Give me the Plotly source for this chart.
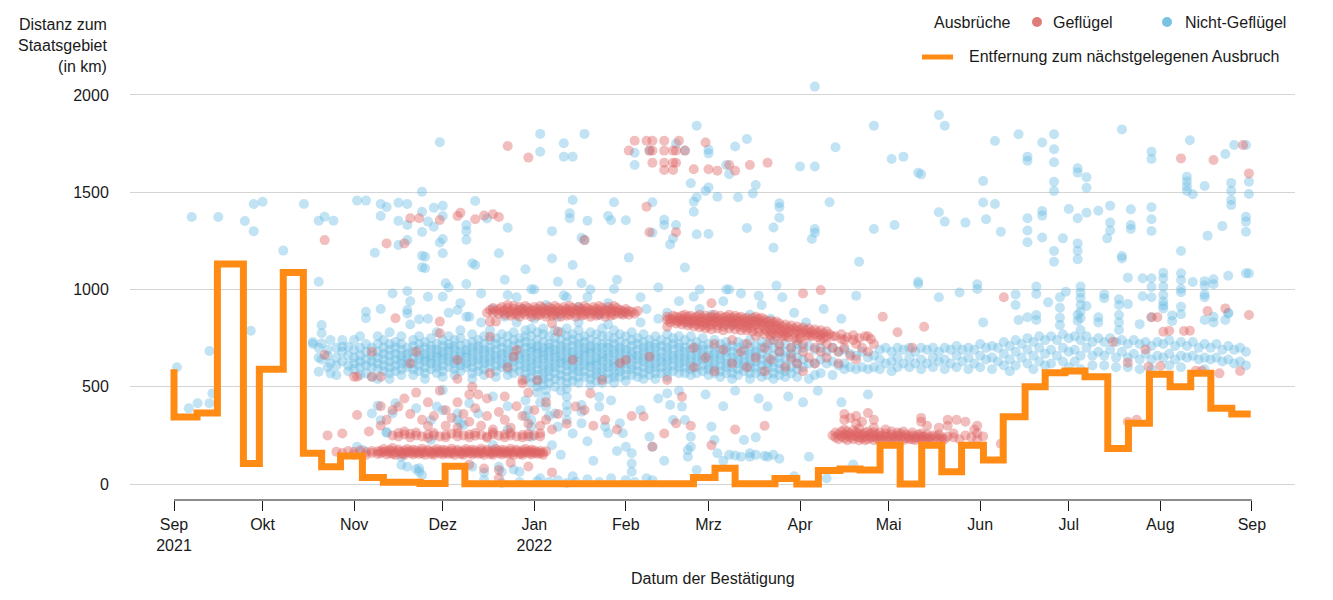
import pandas as pd
import plotly.graph_objects as go

BASE = pd.Timestamp("2021-09-01")

# ---------------- Orange step line (day offset from 2021-09-01, km) ----------------
STEP_DAYS = [0, 0, 7.8, 14.7, 23.5, 28.9, 37, 43.8, 50, 56.4, 63.8, 70.9, 83.3, 91.8, 98.5,
             175.9, 183.2, 190, 203.5, 210.9, 218.2, 225.5, 232.3, 239.1, 245.9, 253.2, 260,
             266.7, 274.1, 280.8, 288.2, 295, 301.7, 308.5, 316.2, 323.2, 330.3, 337.3, 344.3,
             351.1, 358.2, 364.6]
STEP_KM = [590, 345, 365, 1131, 106, 590, 1088, 158, 89, 144, 34, 9, 3, 92, 2,
           34, 81, 2, 29, 0, 70, 77, 72, 200, 0, 200, 63,
           200, 123, 346, 500, 572, 581, 552, 183, 312, 564, 500, 569,
           389, 360, 360]

# ---------------- Axis ticks ----------------
X_TICKS = ["2021-09-01", "2021-10-01", "2021-11-01", "2021-12-01", "2022-01-01", "2022-02-01",
           "2022-03-01", "2022-04-01", "2022-05-01", "2022-06-01", "2022-07-01", "2022-08-01",
           "2022-09-01"]
X_LABELS = ["Sep<br>2021", "Okt", "Nov", "Dez", "Jan<br>2022", "Feb", "Mrz", "Apr", "Mai",
            "Jun", "Jul", "Aug", "Sep"]
Y_TICKS = [0, 500, 1000, 1500, 2000]

# ---------------- Nicht-Geflügel (blue) ; "day: km km ..." ----------------
NP_BAND_HERBST = [
    "47:730 720", "49:577 700 650", "50:817 775 723 640", "52:690 660 600", "53:569 740 620",
    "55:700 650 610 560", "57:740 706 680 630", "59:706 660 610 580", "61:740 690 650 620 590",
    "63:760 700 660 630 600 560", "65:886 852 720 680 640 610 570", "67:700 660 630 600 550",
    "69:760 720 680 650 620 590 540", "71:740 700 670 640 610 580",
    "73:780 720 690 660 630 600 570 540", "75:730 700 670 640 610 580",
    "77:760 720 690 660 640 620 590 560", "79:895 877 700 670 650 620 600",
    "81:740 710 680 650 620 590 560", "83:847 760 720 690 660 640 610 580",
    "85:730 700 670 650 630 600 570 540", "87:750 710 690 660 640 620 590",
    "89:780 720 690 670 650 620 600 570", "91:740 710 680 660 640 610 580 550",
    "93:760 720 700 680 650 630 600", "95:740 710 690 660 640 620 590 560",
    "97:790 750 710 680 660 630 610 580", "99:860 720 690 670 650 620 600",
    "101:770 730 700 680 650 630 600 570 540", "103:740 710 690 660 640 610 580",
    "105:760 720 690 670 640 620 590 560", "107:790 740 700 680 650 630 600",
    "109:750 720 690 660 640 610 580 550", "111:770 730 700 670 650 620 600",
    "113:760 720 690 670 640 620 590 560", "115:780 740 710 680 650 630 600 570",
    "117:750 720 690 660 640 610 580", "119:790 760 730 700 670 650 620 600 570 540",
]
NP_BAND_WINTER = [
    "121:800 760 720 700 680 650 630 600 580 550 520", "123:780 740 710 690 670 640 620 590 560 530 500",
    "125:800 770 730 700 680 660 640 610 590 560 540 510", "127:760 720 700 680 650 630 600 580 550 520",
    "129:790 750 720 690 670 650 620 600 570 540 500", "131:780 740 710 690 660 640 620 590 560 530",
    "133:800 760 730 700 680 650 630 610 580 550 520 490", "135:770 740 710 680 660 640 610 590 560 530",
    "137:790 750 720 700 670 650 630 600 580 550 520", "139:760 730 700 680 660 630 610 580 550",
    "141:780 740 710 690 670 640 620 600 570 540 510", "143:770 730 700 680 650 630 610 580 560 530",
    "145:800 760 720 700 670 650 630 600 580 550 520", "147:760 720 700 670 650 620 600 570 540",
    "149:790 750 720 690 670 640 620 600 570 550 520", "151:770 730 700 680 650 630 600 580 550",
    "153:760 720 690 670 640 620 590 560 530", "155:780 740 710 680 660 640 610 590 560",
    "157:750 720 690 660 640 610 580 550", "159:770 730 700 680 650 630 600 570 540",
    "161:740 710 690 660 640 610 590 560", "163:760 720 700 670 650 620 600 570 540",
    "165:740 710 680 650 630 600 570", "167:770 730 700 680 650 630 600 580 550",
    "169:750 720 690 660 640 610 580", "171:760 720 700 670 650 620 600 570",
    "173:740 700 680 650 630 600 570", "175:760 720 690 660 640 610 590 560",
    "177:730 700 680 650 630 600 570", "179:750 710 690 660 640 610 580",
    "181:720 690 660 640 610 590 560", "183:740 700 670 650 620 600 570",
    "185:720 690 660 640 610 580 550", "187:730 700 680 650 620 600 570",
    "189:710 680 650 630 600 570 540", "191:730 700 670 640 620 590 560",
    "193:720 690 660 630 610 580", "195:740 700 670 650 620 600 570 540",
    "197:710 680 660 630 600 570", "199:730 700 670 640 610 580 550",
    "201:720 690 650 620 600 560", "203:740 700 660 630 600 570 540",
    "205:710 680 650 620 590 560", "207:720 680 650 610 580 550",
    "209:700 670 640 600 570", "211:720 690 650 620 590 550",
    "213:700 640 600", "215:710 620 540", "217:690 620 560", "219:700 640 570",
    "221:680 620", "223:700 630 560", "225:680 610", "227:690 620 590",
    "229:670 600", "231:660 590", "233:680 600", "235:650 590",
]
NP_BAND_SOMMER = [
    "237:660 600", "239:690 640 590", "241:700 620", "243:680 630 580",
    "245:700 650 600", "247:690 620", "249:700 650 600", "251:680 620",
    "253:700 640 590", "255:690 620", "257:700 650 600", "259:680 630",
    "261:700 640 590", "263:690 620", "265:710 660 600", "267:690 630",
    "269:700 650 590", "271:690 620", "273:720 660 600", "275:700 640",
    "277:710 650 590", "279:700 630", "281:730 670 610", "283:710 640 580",
    "285:740 680 610", "287:720 650", "289:750 690 620", "291:730 660 590",
    "293:760 700 630", "295:740 670 610", "297:760 690 620", "299:740 660",
    "301:770 700 630", "303:750 680 600", "305:760 690 630",
    "307:740 660 590", "309:760 700", "311:730 660 610",
    "313:750 680", "315:730 660 610", "317:750 690", "319:730 650 600",
    "321:740 680", "323:720 650 600", "325:740 670", "327:720 640 590",
    "329:730 670", "331:710 640 590", "333:730 660", "335:720 650",
    "337:740 670 610", "339:710 640", "341:730 660 600", "343:710 650",
    "345:730 660", "347:700 640", "349:720 650 590", "351:700 640",
    "353:720 650", "355:690 630", "357:710 640", "359:690 620", "361:700 630",
    "363:680 610",
]
NP_OBEN = [
    "1:600", "5:389", "8:415", "12:684 415", "13:466", "6:1373", "15:1373", "24:1352", "26:788",
    "27:1440 1300", "30:1451", "37:1200", "44:1440", "49:1354 1040", "51:1374", "54:1354",
    "62:1457", "65:1457", "68:1189", "70:1440 1378 900", "72:1424", "74:980", "76:1446 1229 1353",
    "79:1440 1332 1254 992", "80:820 940", "84:1503 1400 1296 1174 1114", "85:1169 1109",
    "86:1349 963 850", "88:1323 1420", "90:1757 1242", "91:1431 1378 1186 1260 963",
    "92:1032", "93:1010 880", "96:895", "97:930", "99:1332 1300 1256 1028", "100:860",
    "101:1135", "102:1126 1455", "104:980 830", "106:1365", "108:900", "110:1186",
    "112:1050 860", "113:1318 972", "116:830 960", "118:900", "119:1104", "121:1001",
    "122:850 1000", "124:1800 1708", "126:920", "128:1300 1159", "130:1040 860",
    "132:1752 970 1683", "133:960", "134:1392 1366", "135:1683 1460 1126", "137:830 910",
    "138:1266 1032", "139:1800 1254", "140:1354 961", "141:1000", "144:870", "147:1378 930 820",
    "148:1356", "149:1449 1003", "150:1050", "152:880", "153:1356", "154:1164",
    "156:1703 1640", "158:960 830", "160:900", "161:1714", "162:1449 1292", "164:1010 850",
    "166:1358 1332", "167:880", "168:1232", "169:1264", "170:1750 1332", "171:940",
    "173:1714 1113", "174:830", "175:1546", "176:1400 1451 963", "177:1842 1474 1284",
    "178:900 1000", "180:1507", "181:1719 1700 1525 1285", "182:870", "184:1477",
    "186:940", "187:1640 1000", "188:1593 1000", "189:820", "190:1735", "191:1474",
    "192:980", "194:1774 1316", "195:870", "196:1494", "197:1537", "198:968", "199:920",
    "202:850", "203:1319 1215", "204:1020", "205:1443 1423 1369", "206:960", "210:880",
    "212:1632", "214:830", "216:1260", "217:2043 1632 1311 1292", "220:900", "222:1449",
    "224:1731", "226:850", "231:968", "232:1143", "237:1842 1311", "243:1671", "244:1332",
    "247:1683", "252:1600 1040 1028", "253:1592", "259:1897 1397 960", "261:1842 1349",
    "266:985", "268:1344", "272:1027 1003", "274:1558 1447 831", "275:1361",
    "278:1763 1440", "280:1297", "285:975 920", "286:1798 843",
    "289:1683 1662 1366 1303 1243 857", "292:1015 977 869 843", "294:1756 1404 1380 1267",
    "296:934", "298:1798 1721 1654 1554 1506 1198 1143", "300:960 906 855 817", "301:1263",
    "302:989", "303:1414", "306:1623 1601 1366 1237 1199 1155 870 840",
    "307:1015 984 955 920 886 852 792", "309:1577 1523 1395 915", "313:1405 857 831",
    "315:975 955", "316:1263", "317:1431 1344 1303", "320:950 920 869 831 792",
    "321:1823 1172 1160", "323:1061 925", "324:1412 1332 1311", "327:822", "328:1058 965",
    "331:1708 1671 1423 1361 1301 1058 1013 960 857", "335:1086 1058 1015 972 938 903 918",
    "338:867 838", "341:1198 1083 1049 1003 986 912 873", "343:1580 1555 1530 1506",
    "344:1767", "345:1490 1039", "349:1532 1043 1020 975 960 843", "350:1277",
    "352:1053 1027 860 831", "355:1326", "356:1697 843", "357:1071 877 880",
    "358:1548 1508 1460 1434", "359:1743", "363:1743 1374 1349 1297 1083", "364:1554 1491 1083",
]
NP_UNTEN = [
    "62:192", "64:175", "67:363", "69:403", "70:328", "72:266 264", "74:363", "75:415",
    "77:98 140", "79:89", "82:76 389", "83:81 63", "84:46", "87:328 226", "89:398",
    "91:380 483", "96:363 329", "97:312", "98:303", "100:415", "101:89", "103:363",
    "105:60 20", "108:200 450", "110:89", "111:63 5", "113:400 280", "115:75", "117:63 10",
    "119:430 350", "120:380", "121:329 295 243", "123:15 470", "124:30 420", "126:449 398 483",
    "127:10 350", "128:200", "129:363", "130:295 20", "131:150 480", "133:449 406 372 329 5",
    "135:260 40", "136:10", "138:406 372 312", "140:25 220", "142:120", "144:449 398 10",
    "146:295", "147:261", "148:30 430", "150:170", "151:312", "152:261", "153:192 20",
    "155:106 63 158", "156:10", "158:380", "160:30", "161:243", "162:192 20", "164:440",
    "166:120", "167:466", "168:406", "169:329", "171:480", "172:398", "173:329",
    "174:175 140", "175:192 243", "177:72", "180:460", "182:295", "183:226", "184:158",
    "186:400 120", "188:150", "190:147 480", "192:140", "193:226", "195:140 158", "197:150 240",
    "198:440", "200:145", "201:398 140", "203:150", "205:130", "208:450", "210:40",
    "213:420", "215:140", "218:480", "221:30", "226:420", "230:100", "235:460",
]

# ---------------- Geflügel (red) ----------------
GF_BAND_160 = [
    "55:166", "57:160", "59:170", "61:165 150", "63:172", "65:165 150", "67:160 170",
    "69:168 155", "70:158 170", "71:165 180", "72:152 168", "73:160 175", "74:155 170 185",
    "75:162 150", "76:168 178", "77:155 165", "78:160 172 150", "79:165 180", "80:158 170",
    "81:152 163 176", "82:160 172", "83:165 155", "84:158 170 182", "85:162 150",
    "86:168 176", "87:155 165", "88:160 172 150", "89:165 180", "90:158 170",
    "91:152 163 176", "92:160 172", "93:165 155", "94:158 170 182", "95:162 150",
    "96:168 176", "97:155 165", "98:160 172 150", "99:165 180", "100:158 170",
    "101:152 163 176", "102:160 172", "103:165 155", "104:158 170 182", "105:162 150",
    "106:168 176", "107:155 165", "108:160 172 150", "109:165 180", "110:158 170",
    "111:152 163 176", "112:160 172", "113:165 155", "114:158 170 182", "115:162 150",
    "116:168 176", "117:155 165", "118:160 172 150", "119:165 180", "120:158 170",
    "121:152 163 176", "122:160 172", "123:165 155", "124:158 170", "125:162 150", "126:168",
]
GF_BAND_250 = [
    "74:250", "76:245 262", "78:255", "80:240 258", "82:250 265", "84:245", "86:238 255",
    "88:250 262", "90:245", "92:252 240", "94:258", "96:245 262", "98:250", "100:240 255",
    "102:248 262", "104:252", "106:245 238", "108:255 265", "110:248", "112:240 255",
    "114:250 262", "116:245", "118:252 240", "120:258 245", "122:250", "124:245 260",
]
GF_BAND_880 = [
    "106:880", "107:895", "108:905 880", "109:890", "110:875 900", "111:885 910",
    "112:870 895", "113:880 905 920", "114:865 890", "115:875 900 915", "116:885 870",
    "117:895 910 860", "118:880 900", "119:870 890 915", "120:885 905", "121:875 895 860",
    "122:890 910", "123:880 865 900", "124:870 890 915", "125:885 905", "126:875 895 860",
    "127:890 910", "128:880 865 900", "129:870 890 915", "130:885 905", "131:875 895 860",
    "132:890 910", "133:880 865 900", "134:870 890 915", "135:885 905", "136:875 895 860",
    "137:890 910", "138:880 865 900", "139:870 890 915", "140:885 905", "141:875 895 860",
    "142:890 910", "143:880 865 900", "144:870 890 915", "145:885 905", "146:875 895 860",
    "147:890 910", "148:880 865 900", "149:870 890 915", "150:885 905", "151:875 895",
    "152:890 870", "153:880 900", "154:870 890", "155:885", "156:875", "157:890",
]
GF_BAND_830 = [
    "167:843 860", "168:830 850", "169:845 865", "170:825 840 860", "171:835 855",
    "172:820 845 865", "173:830 850 870", "174:815 840 860", "175:825 845 865",
    "176:835 855 810", "177:820 840 860", "178:830 850 870 805", "179:815 835 855",
    "180:825 845 865 800", "181:835 855 810", "182:820 840 860 795", "183:830 850 870",
    "184:815 835 855 800", "185:825 845 865", "186:835 855 810 790", "187:820 840 860",
    "188:830 850 870 800", "189:815 835 855", "190:825 845 865 795", "191:835 855 810",
    "192:820 840 860 790", "193:830 850 805", "194:815 835 855 790", "195:825 845 800",
    "196:835 855 810 785", "197:820 840 860", "198:830 850 800 780", "199:815 835 855",
    "200:825 845 795 770", "201:835 810 785", "202:820 840 790 765", "203:830 800 775",
    "204:815 835 790 760", "205:825 800 775", "206:810 785 760", "207:820 795 770",
    "208:805 780 755", "209:815 790", "210:800 775 750", "211:810 785", "212:795 770 750",
    "213:805 780", "214:790 765", "215:800 775", "216:785 760", "217:795 770",
    "218:780 755", "219:790 765", "220:775 750", "221:785 760", "222:770", "224:760",
    "226:770 745", "228:755", "230:765 740", "232:750", "234:760", "236:745",
]
GF_BAND_240 = [
    "223:250", "224:240 265", "225:230 255", "226:245 270", "227:235 255 280",
    "228:225 250 270", "229:240 260", "230:230 250 275", "231:245 265", "232:225 240 260 285",
    "233:235 255", "234:245 265 225", "235:230 250 270", "236:240 260", "237:225 245 265 290",
    "238:235 255", "239:245 225 265", "240:230 250", "241:240 260 280", "242:225 245",
    "243:235 255 270", "244:245 225", "245:230 250 265", "246:240 260", "247:225 245 270",
    "248:235 255", "249:245 230", "250:230 250 265", "251:240 225", "252:235 255",
    "253:245 230 260", "254:225 245", "255:235 255", "256:240 225", "257:230 250",
    "258:245", "259:235 255", "260:240 225", "261:230", "262:245", "264:240 260",
    "266:230", "268:250", "270:240", "272:230 260", "274:245", "280:207",
]
GF_STREU = [
    "51:663 1254", "52:250", "57:260", "61:552", "62:552 355", "66:270", "67:680 552",
    "70:552 300 400", "72:330 1237", "74:380", "75:852", "76:398", "78:270 440 1237",
    "80:621 360 1366", "82:680 470", "83:1366", "84:330", "86:300 420", "88:350",
    "90:775 835 480 1357", "92:380 300", "94:340", "96:638 540 290 420 1378", "97:1395",
    "98:360", "100:320 460 100", "101:500", "102:390 1361", "103:460", "104:300",
    "105:80 1380", "106:440 350", "107:835 757 569", "108:280 1387", "109:835",
    "110:370 30 72 1373", "112:330 450", "113:600 1738", "114:290 110", "115:655",
    "116:689 400", "118:518 535 350", "120:310 470 90 1678", "122:380", "123:535",
    "124:300", "126:420 330", "128:826 280 60", "130:783 360", "133:310", "135:638",
    "136:398", "139:380 1254", "141:466", "142:300", "145:535", "146:330", "150:280",
    "151:621", "153:638", "154:1714", "155:350", "156:1765", "159:347", "160:1765 1426",
    "161:655 1714 1294", "162:192 1765 1714 1652", "166:260 1765 1714 1652 1614",
    "167:535 809", "169:1652 1714 1614", "170:312 1652 1714 1294", "171:1765",
    "172:449 843", "173:1714", "175:300", "176:700 600 1618", "180:650 1756", "181:1618",
    "182:200 929", "183:720 580", "184:1611", "186:690", "188:1640", "189:740 620",
    "190:280 1611", "192:680", "194:720 600", "195:1640", "197:650 760", "200:700 580 300",
    "201:1652", "202:740 640", "205:680 720", "207:600 760", "209:700 650", "211:740 620",
    "213:680 720 580 980", "215:760 650", "217:700 620", "219:740 680 997", "221:650 720",
    "223:700 760", "225:620 680", "227:740 700 330 360", "229:660 340", "231:720 640 310 350",
    "233:700 320", "235:760 680 365", "237:720 330", "240:860", "245:780", "250:700",
    "253:320 340", "254:809", "255:300", "259:290", "262:330 300", "265:330", "268:320",
    "271:280", "272:300", "281:960", "318:732", "323:624 320", "326:330", "329:692",
    "330:603", "331:857", "333:858", "334:607", "335:783", "337:788", "341:1674",
    "342:787", "344:788", "346:582", "348:582", "350:889", "352:1666", "354:569",
    "356:903", "361:581", "362:1743", "364:1597 869",
]


def expand(*groups):
    xs, ys = [], []
    for group in groups:
        for col in group:
            day, vals = col.split(":")
            for v in vals.split():
                xs.append(BASE + pd.Timedelta(days=float(day)))
                ys.append(float(v))
    return xs, ys


bx, by = expand(NP_BAND_HERBST, NP_BAND_WINTER, NP_BAND_SOMMER, NP_OBEN, NP_UNTEN)
rx, ry = expand(GF_BAND_160, GF_BAND_250, GF_BAND_880, GF_BAND_830, GF_BAND_240, GF_STREU)
sx = [BASE + pd.Timedelta(days=d) for d in STEP_DAYS]

BLUE = "rgb(108,188,226)"
RED = "rgb(222,98,98)"
ORANGE = "#FF8A14"

fig = go.Figure()
fig.add_trace(go.Scatter(x=bx, y=by, mode="markers", hoverinfo="skip", showlegend=False,
                         marker=dict(size=10, color=BLUE, opacity=0.42, line=dict(width=0))))
fig.add_trace(go.Scatter(x=rx, y=ry, mode="markers", hoverinfo="skip", showlegend=False,
                         marker=dict(size=10, color=RED, opacity=0.42, line=dict(width=0))))
fig.add_trace(go.Scatter(x=sx, y=STEP_KM, mode="lines", hoverinfo="skip", showlegend=False,
                         line=dict(color=ORANGE, width=7, shape="hv")))

L, R, T, B, W, H = 130, 38, 80, 100, 1333, 600
PW, PH = W - L - R, H - T - B


def px(x):
    return (x - L) / PW


def py(y):
    return (H - B - y) / PH


fig.update_layout(
    width=W, height=H, margin=dict(l=L, r=R, t=T, b=B),
    plot_bgcolor="white", paper_bgcolor="white", showlegend=False,
    font=dict(family="Liberation Sans, Arial, sans-serif", size=16, color="#1a1a1a"),
)
fig.update_xaxes(
    range=[BASE + pd.Timedelta(days=-14.9), BASE + pd.Timedelta(days=379.6)],
    tickvals=X_TICKS, ticktext=X_LABELS, ticks="outside", ticklen=10, tickwidth=1,
    tickcolor="#1a1a1a", showgrid=False, showline=False, zeroline=False,
)
fig.update_yaxes(
    range=[-82, 2077], tickvals=Y_TICKS, ticks="outside", ticklen=17,
    tickcolor="rgba(0,0,0,0)", showgrid=True, gridcolor="#d4d4d4", gridwidth=1,
    zeroline=False, showline=False,
)

# x-axis baseline only from Sep to Sep
fig.add_shape(type="line", xref="x", yref="paper", x0=X_TICKS[0], x1=X_TICKS[-1], y0=0, y1=0,
              line=dict(color="#1a1a1a", width=1))

ann = []
ann.append(dict(text="Distanz zum<br>Staatsgebiet<br>(in km)", x=px(110), y=py(14),
                xanchor="right", yanchor="top", align="right"))
ann.append(dict(text="Datum der Bestätigung", x=0.5, y=py(578), xanchor="center",
                yanchor="middle"))
ann.append(dict(text="Ausbrüche", x=px(932), y=py(22), xanchor="left", yanchor="middle"))
ann.append(dict(text="Geflügel", x=px(1051), y=py(22), xanchor="left", yanchor="middle"))
ann.append(dict(text="Nicht-Geflügel", x=px(1183), y=py(22), xanchor="left", yanchor="middle"))
ann.append(dict(text="Entfernung zum nächstgelegenen Ausbruch", x=px(967), y=py(57),
                xanchor="left", yanchor="middle"))
for a in ann:
    fig.add_annotation(xref="paper", yref="paper", showarrow=False, **a)

for cx, col in [(1037, "#E07B7B"), (1167, "#78C3E4")]:
    fig.add_shape(type="circle", xref="paper", yref="paper", x0=px(cx - 5), x1=px(cx + 5),
                  y0=py(27), y1=py(17), fillcolor=col, line=dict(width=0))
fig.add_shape(type="line", xref="paper", yref="paper", x0=px(922), x1=px(953), y0=py(57),
              y1=py(57), line=dict(color=ORANGE, width=5))

fig.write_html("out.html", config={"displayModeBar": False},
               post_script="document.body.style.margin='0px';document.body.style.overflow='hidden';")
